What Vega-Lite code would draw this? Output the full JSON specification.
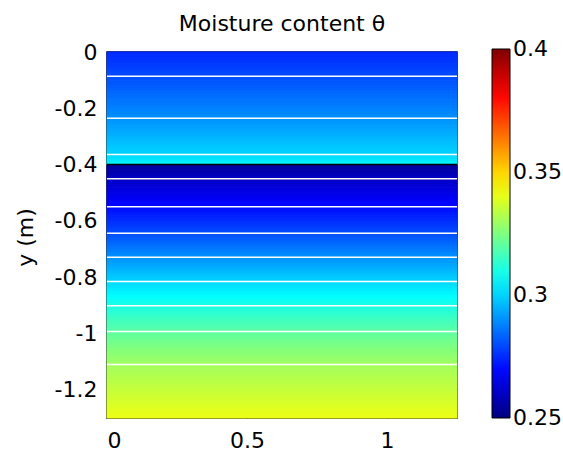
{
  "$schema": "https://vega.github.io/schema/vega-lite/v6.json",
  "autosize": {"type": "none"},
  "padding": {"left": 107, "top": 52, "right": 106, "bottom": 37},
  "width": 350,
  "height": 366,
  "background": "white",
  "config": {
    "view": {"stroke": "black", "strokeWidth": 1.5},
    "font": "DejaVu Sans",
    "axis": {"grid": false, "domain": false, "zindex": 1, "labelFont": "DejaVu Sans", "labelFontSize": 22, "labelColor": "black", "tickColor": "black", "titleFont": "DejaVu Sans", "titleFontWeight": "normal", "titleFontSize": 22, "titleColor": "black"},
    "legend": {"labelFont": "DejaVu Sans", "labelFontSize": 22, "labelColor": "black"}
  },
  "title": {"text": "Moisture content θ", "fontSize": 22, "fontWeight": "normal", "font": "DejaVu Sans", "color": "black", "offset": 5},
  "datasets": {
    "bands": [
      {"top": 0, "bot": -0.01, "theta": 0.2748},
      {"top": -0.01, "bot": -0.02, "theta": 0.2755},
      {"top": -0.02, "bot": -0.03, "theta": 0.2761},
      {"top": -0.03, "bot": -0.04, "theta": 0.2767},
      {"top": -0.04, "bot": -0.05, "theta": 0.2774},
      {"top": -0.05, "bot": -0.06, "theta": 0.2780},
      {"top": -0.06, "bot": -0.07, "theta": 0.2787},
      {"top": -0.07, "bot": -0.08, "theta": 0.2793},
      {"top": -0.08, "bot": -0.09, "theta": 0.2799},
      {"top": -0.09, "bot": -0.10, "theta": 0.2806},
      {"top": -0.10, "bot": -0.11, "theta": 0.2813},
      {"top": -0.11, "bot": -0.12, "theta": 0.2819},
      {"top": -0.12, "bot": -0.13, "theta": 0.2826},
      {"top": -0.13, "bot": -0.14, "theta": 0.2833},
      {"top": -0.14, "bot": -0.15, "theta": 0.2840},
      {"top": -0.15, "bot": -0.16, "theta": 0.2846},
      {"top": -0.16, "bot": -0.17, "theta": 0.2853},
      {"top": -0.17, "bot": -0.18, "theta": 0.2860},
      {"top": -0.18, "bot": -0.19, "theta": 0.2866},
      {"top": -0.19, "bot": -0.20, "theta": 0.2873},
      {"top": -0.20, "bot": -0.21, "theta": 0.2880},
      {"top": -0.21, "bot": -0.22, "theta": 0.2887},
      {"top": -0.22, "bot": -0.23, "theta": 0.2893},
      {"top": -0.23, "bot": -0.24, "theta": 0.2900},
      {"top": -0.24, "bot": -0.25, "theta": 0.2908},
      {"top": -0.25, "bot": -0.26, "theta": 0.2916},
      {"top": -0.26, "bot": -0.27, "theta": 0.2923},
      {"top": -0.27, "bot": -0.28, "theta": 0.2931},
      {"top": -0.28, "bot": -0.29, "theta": 0.2939},
      {"top": -0.29, "bot": -0.30, "theta": 0.2947},
      {"top": -0.30, "bot": -0.31, "theta": 0.2955},
      {"top": -0.31, "bot": -0.32, "theta": 0.2962},
      {"top": -0.32, "bot": -0.33, "theta": 0.2970},
      {"top": -0.33, "bot": -0.34, "theta": 0.2978},
      {"top": -0.34, "bot": -0.35, "theta": 0.2985},
      {"top": -0.35, "bot": -0.36, "theta": 0.2993},
      {"top": -0.36, "bot": -0.37, "theta": 0.3001},
      {"top": -0.37, "bot": -0.38, "theta": 0.3015},
      {"top": -0.38, "bot": -0.39, "theta": 0.3029},
      {"top": -0.39, "bot": -0.40, "theta": 0.3043},
      {"top": -0.40, "bot": -0.41, "theta": 0.2546},
      {"top": -0.41, "bot": -0.42, "theta": 0.2558},
      {"top": -0.42, "bot": -0.43, "theta": 0.2570},
      {"top": -0.43, "bot": -0.44, "theta": 0.2582},
      {"top": -0.44, "bot": -0.45, "theta": 0.2594},
      {"top": -0.45, "bot": -0.46, "theta": 0.2605},
      {"top": -0.46, "bot": -0.47, "theta": 0.2615},
      {"top": -0.47, "bot": -0.48, "theta": 0.2625},
      {"top": -0.48, "bot": -0.49, "theta": 0.2635},
      {"top": -0.49, "bot": -0.50, "theta": 0.2645},
      {"top": -0.50, "bot": -0.51, "theta": 0.2655},
      {"top": -0.51, "bot": -0.52, "theta": 0.2665},
      {"top": -0.52, "bot": -0.53, "theta": 0.2675},
      {"top": -0.53, "bot": -0.54, "theta": 0.2685},
      {"top": -0.54, "bot": -0.55, "theta": 0.2695},
      {"top": -0.55, "bot": -0.56, "theta": 0.2705},
      {"top": -0.56, "bot": -0.57, "theta": 0.2716},
      {"top": -0.57, "bot": -0.58, "theta": 0.2727},
      {"top": -0.58, "bot": -0.59, "theta": 0.2737},
      {"top": -0.59, "bot": -0.60, "theta": 0.2748},
      {"top": -0.60, "bot": -0.61, "theta": 0.2759},
      {"top": -0.61, "bot": -0.62, "theta": 0.2769},
      {"top": -0.62, "bot": -0.63, "theta": 0.2780},
      {"top": -0.63, "bot": -0.64, "theta": 0.2790},
      {"top": -0.64, "bot": -0.65, "theta": 0.2801},
      {"top": -0.65, "bot": -0.66, "theta": 0.2813},
      {"top": -0.66, "bot": -0.67, "theta": 0.2825},
      {"top": -0.67, "bot": -0.68, "theta": 0.2836},
      {"top": -0.68, "bot": -0.69, "theta": 0.2848},
      {"top": -0.69, "bot": -0.70, "theta": 0.2860},
      {"top": -0.70, "bot": -0.71, "theta": 0.2872},
      {"top": -0.71, "bot": -0.72, "theta": 0.2884},
      {"top": -0.72, "bot": -0.73, "theta": 0.2895},
      {"top": -0.73, "bot": -0.74, "theta": 0.2907},
      {"top": -0.74, "bot": -0.75, "theta": 0.2919},
      {"top": -0.75, "bot": -0.76, "theta": 0.2930},
      {"top": -0.76, "bot": -0.77, "theta": 0.2942},
      {"top": -0.77, "bot": -0.78, "theta": 0.2953},
      {"top": -0.78, "bot": -0.79, "theta": 0.2965},
      {"top": -0.79, "bot": -0.80, "theta": 0.2977},
      {"top": -0.80, "bot": -0.81, "theta": 0.2988},
      {"top": -0.81, "bot": -0.82, "theta": 0.3000},
      {"top": -0.82, "bot": -0.83, "theta": 0.3012},
      {"top": -0.83, "bot": -0.84, "theta": 0.3023},
      {"top": -0.84, "bot": -0.85, "theta": 0.3035},
      {"top": -0.85, "bot": -0.86, "theta": 0.3047},
      {"top": -0.86, "bot": -0.87, "theta": 0.3058},
      {"top": -0.87, "bot": -0.88, "theta": 0.3070},
      {"top": -0.88, "bot": -0.89, "theta": 0.3081},
      {"top": -0.89, "bot": -0.90, "theta": 0.3093},
      {"top": -0.90, "bot": -0.91, "theta": 0.3104},
      {"top": -0.91, "bot": -0.92, "theta": 0.3115},
      {"top": -0.92, "bot": -0.93, "theta": 0.3126},
      {"top": -0.93, "bot": -0.94, "theta": 0.3137},
      {"top": -0.94, "bot": -0.95, "theta": 0.3148},
      {"top": -0.95, "bot": -0.96, "theta": 0.3159},
      {"top": -0.96, "bot": -0.97, "theta": 0.3170},
      {"top": -0.97, "bot": -0.98, "theta": 0.3180},
      {"top": -0.98, "bot": -0.99, "theta": 0.3191},
      {"top": -0.99, "bot": -1.00, "theta": 0.3202},
      {"top": -1.00, "bot": -1.01, "theta": 0.3210},
      {"top": -1.01, "bot": -1.02, "theta": 0.3219},
      {"top": -1.02, "bot": -1.03, "theta": 0.3227},
      {"top": -1.03, "bot": -1.04, "theta": 0.3236},
      {"top": -1.04, "bot": -1.05, "theta": 0.3244},
      {"top": -1.05, "bot": -1.06, "theta": 0.3253},
      {"top": -1.06, "bot": -1.07, "theta": 0.3262},
      {"top": -1.07, "bot": -1.08, "theta": 0.3270},
      {"top": -1.08, "bot": -1.09, "theta": 0.3279},
      {"top": -1.09, "bot": -1.10, "theta": 0.3287},
      {"top": -1.10, "bot": -1.11, "theta": 0.3296},
      {"top": -1.11, "bot": -1.12, "theta": 0.3303},
      {"top": -1.12, "bot": -1.13, "theta": 0.3309},
      {"top": -1.13, "bot": -1.14, "theta": 0.3314},
      {"top": -1.14, "bot": -1.15, "theta": 0.3320},
      {"top": -1.15, "bot": -1.16, "theta": 0.3326},
      {"top": -1.16, "bot": -1.17, "theta": 0.3332},
      {"top": -1.17, "bot": -1.18, "theta": 0.3338},
      {"top": -1.18, "bot": -1.19, "theta": 0.3343},
      {"top": -1.19, "bot": -1.20, "theta": 0.3349},
      {"top": -1.20, "bot": -1.21, "theta": 0.3355},
      {"top": -1.21, "bot": -1.22, "theta": 0.3361},
      {"top": -1.22, "bot": -1.23, "theta": 0.3367},
      {"top": -1.23, "bot": -1.24, "theta": 0.3372},
      {"top": -1.24, "bot": -1.25, "theta": 0.3378},
      {"top": -1.25, "bot": -1.26, "theta": 0.3384},
      {"top": -1.26, "bot": -1.27, "theta": 0.3390},
      {"top": -1.27, "bot": -1.28, "theta": 0.3396},
      {"top": -1.28, "bot": -1.29, "theta": 0.3401},
      {"top": -1.29, "bot": -1.30, "theta": 0.3407}
    ],
    "contours": [
      {"yc": -0.086}, {"yc": -0.235}, {"yc": -0.364}, {"yc": -0.45}, {"yc": -0.55},
      {"yc": -0.644}, {"yc": -0.729}, {"yc": -0.815}, {"yc": -0.901}, {"yc": -0.993}, {"yc": -1.11}
    ],
    "interface": [{"yi": -0.4}]
  },
  "resolve": {"legend": {"stroke": "independent", "color": "independent"}},
  "layer": [
    {
      "data": {"name": "bands"},
      "mark": {"type": "rect", "strokeWidth": 1, "fillOpacity": 0},
      "encoding": {
        "x": {"datum": 0, "type": "quantitative", "scale": {"domain": [0, 1.25], "nice": false, "zero": false},
              "axis": {"values": [0, 0.5, 1], "title": null, "tickSize": -5, "labelPadding": 17, "labelExpr": "format(datum.value, '~g')"}},
        "x2": {"datum": 1.25},
        "y": {"field": "top", "type": "quantitative", "scale": {"domain": [-1.3, 0], "nice": false, "zero": false},
              "axis": {"values": [0, -0.2, -0.4, -0.6, -0.8, -1, -1.2], "title": "y (m)", "tickSize": -5, "labelPadding": 15,
                       "labelExpr": "datum.value == 0 ? '0' : '-' + format(abs(datum.value), '.1~f')",
                       "titleX": -82, "titleY": 185, "titleAngle": -90, "titleAlign": "center", "titleBaseline": "middle"}},
        "y2": {"field": "bot"},
        "stroke": {"field": "theta", "type": "quantitative",
                   "scale": {"domain": [0.25, 0.26875, 0.30625, 0.34375, 0.38125, 0.4], "range": ["#000080", "#0000ff", "#00ffff", "#ffff00", "#ff0000", "#800000"], "interpolate": "rgb"},
                   "legend": null}
      }
    },
    {
      "data": {"name": "bands"},
      "mark": {"type": "rect"},
      "encoding": {
        "x": {"datum": 0, "type": "quantitative"},
        "x2": {"datum": 1.25},
        "y": {"field": "top", "type": "quantitative"},
        "y2": {"field": "bot"},
        "color": {"field": "theta", "type": "quantitative",
                  "scale": {"domain": [0.25, 0.26875, 0.30625, 0.34375, 0.38125, 0.4], "range": ["#000080", "#0000ff", "#00ffff", "#ffff00", "#ff0000", "#800000"], "interpolate": "rgb"},
                  "legend": {"type": "gradient", "orient": "none", "legendX": 385, "legendY": -3, "direction": "vertical", "gradientLength": 369, "gradientThickness": 18,
                             "values": [0.25, 0.3, 0.35, 0.4], "format": ".2~f", "title": null, "padding": 0, "labelOffset": 3, "labelBaseline": "middle",
                             "gradientStrokeColor": "black", "gradientStrokeWidth": 1,
                             "encode": {"labels": {"update": {"baseline": {"value": "middle"}}}}}}
      }
    },
    {
      "data": {"name": "contours"},
      "mark": {"type": "rule", "color": "white", "strokeWidth": 1.5},
      "encoding": {"y": {"field": "yc", "type": "quantitative"}}
    },
    {
      "data": {"name": "interface"},
      "mark": {"type": "rule", "color": "black", "strokeWidth": 1.5},
      "encoding": {"y": {"field": "yi", "type": "quantitative"}}
    }
  ]
}
